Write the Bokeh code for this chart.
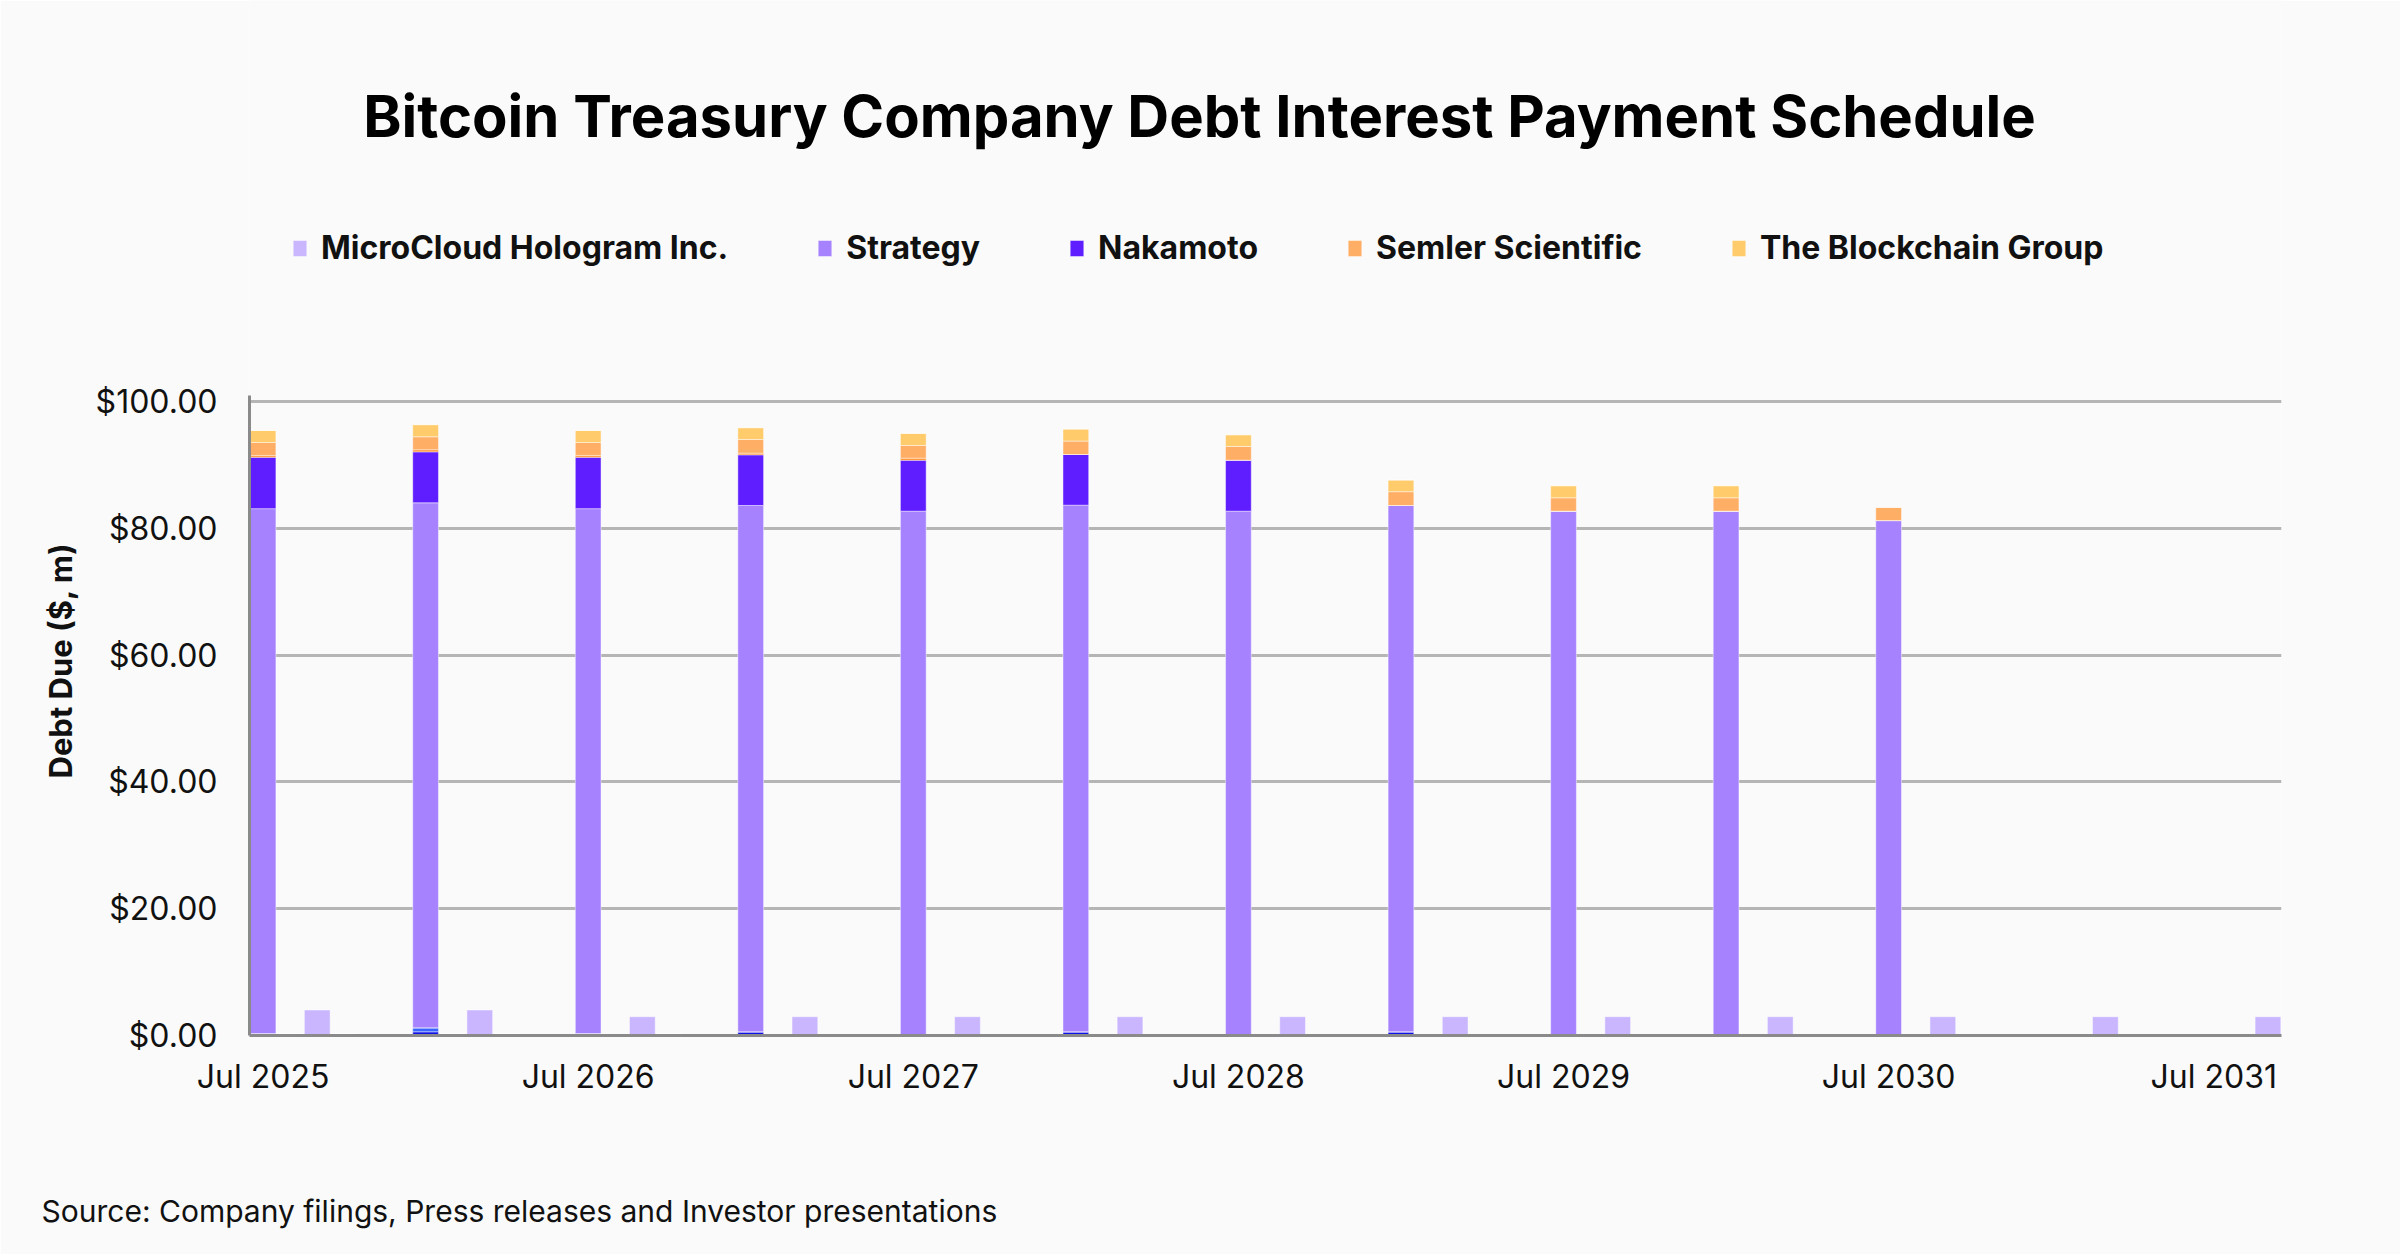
from bokeh.plotting import figure
from bokeh.models import (Range1d, FixedTicker, NumeralTickFormatter, Label,
                          Legend, LegendItem, ColumnDataSource, Title)
from bokeh.embed import file_html
from bokeh.resources import INLINE

# ---------------- data ----------------
payment_months = ["2025-07", "2025-08", "2025-09", "2025-10",
                  "2026-01", "2026-02", "2026-03", "2026-04",
                  "2026-07", "2026-09", "2026-10",
                  "2027-01", "2027-03", "2027-07", "2027-09",
                  "2028-01", "2028-03", "2028-07", "2028-09",
                  "2029-01", "2029-03", "2029-07", "2029-09",
                  "2030-01", "2030-03", "2030-07", "2030-09",
                  "2031-03", "2031-09"]

other_dark_blue = [0, 0, 0, 0,
                   0.58, 0, 0, 0,
                   0, 0, 0,
                   0.58, 0, 0, 0,
                   0.58, 0, 0, 0,
                   0.58, 0, 0, 0,
                   0, 0, 0, 0,
                   0, 0]
other_mid_blue = [0.30, 0, 0, 0.30,
                  0.63, 0, 0, 0.30,
                  0.30, 0, 0.30,
                  0, 0, 0, 0,
                  0, 0, 0, 0,
                  0, 0, 0, 0,
                  0, 0, 0, 0,
                  0, 0]
other_light_blue = [0, 0.35, 0, 0,
                    0, 0.35, 0, 0,
                    0, 0, 0,
                    0, 0, 0, 0,
                    0, 0, 0, 0,
                    0, 0, 0, 0,
                    0, 0, 0, 0,
                    0, 0]
strategy = [82.8, 0, 0, 0,
            82.81, 0, 0, 0,
            82.8, 0, 0,
            83.02, 0, 82.7, 0,
            83.07, 0, 82.7, 0,
            83.02, 0, 82.7, 0,
            82.7, 0, 81.22, 0,
            0, 0]
nakamoto = [8.1, 0, 0, 0,
            8.04, 0, 0, 0,
            8.1, 0, 0,
            7.99, 0, 8.04, 0,
            7.99, 0, 8.04, 0,
            0, 0, 0, 0,
            0, 0, 0, 0,
            0, 0]
other_dark_orange = [0.26, 0, 0, 0,
                     0.32, 0, 0, 0,
                     0.26, 0, 0,
                     0.26, 0, 0.32, 0,
                     0, 0, 0, 0,
                     0, 0, 0, 0,
                     0, 0, 0, 0,
                     0, 0]
semler = [2.07, 0, 0, 0,
          2.06, 0, 0, 0,
          2.07, 0, 0,
          2.17, 0, 2.01, 0,
          2.12, 0, 2.17, 0,
          2.17, 0, 2.11, 0,
          2.11, 0, 2.11, 0,
          0, 0]
blockchain_group = [1.9, 0, 0, 0,
                    1.91, 0, 0, 0,
                    1.9, 0, 0,
                    1.85, 0, 1.9, 0,
                    1.9, 0, 1.85, 0,
                    1.85, 0, 1.91, 0,
                    1.91, 0, 0, 0,
                    0, 0]
microcloud = [0, 0, 4.02, 0,
              0, 0, 4.02, 0,
              0, 2.96, 0,
              0, 2.96, 0, 2.96,
              0, 2.96, 0, 2.96,
              0, 2.96, 0, 2.96,
              0, 2.96, 0, 2.96,
              2.96, 2.96]

tick_months = ["2025-07", "2026-07", "2027-07", "2028-07", "2029-07", "2030-07", "2031-07"]
tick_labels = ["Jul 2025", "Jul 2026", "Jul 2027", "Jul 2028", "Jul 2029", "Jul 2030", "Jul 2031"]
y_ticks = [0, 20, 40, 60, 80, 100]

# ---------------- helpers ----------------
def month_index(s):
    y, m = s.split("-")
    return (int(y) - 2025) * 12 + (int(m) - 7)

FONT = "Inter"
TXT = "#111111"
BG = "#FAFAFA"

src = ColumnDataSource(dict(
    x=[month_index(m) for m in payment_months],
    dark_blue=other_dark_blue, mid_blue=other_mid_blue, light_blue=other_light_blue,
    strategy=strategy, nakamoto=nakamoto, dark_orange=other_dark_orange,
    semler=semler, blockchain=blockchain_group, microcloud=microcloud,
))

stackers = ["dark_blue", "mid_blue", "light_blue", "strategy", "nakamoto",
            "dark_orange", "semler", "blockchain", "microcloud"]
colors = ["#0E12E6", "#3A64FF", "#93AEFF", "#A682FF", "#5F1EFF",
          "#FF8A1C", "#FFAE66", "#FFCB6B", "#C9B6FF"]

W, H = 2400, 1254
ZERO_Y = 1035            # canvas px of the $0 line
HUNDRED_Y = 401          # canvas px of the $100 line
PX_PER_UNIT = (ZERO_Y - HUNDRED_Y) / 100.0
Y_TOP = 100 + HUNDRED_Y / PX_PER_UNIT   # frame reaches the canvas top

p = figure(width=W, height=H, output_backend="svg", toolbar_location=None,
           title=None,
           x_range=Range1d(-0.5, 74.5), y_range=Range1d(0, Y_TOP),
           min_border_left=249, min_border_right=119,
           min_border_top=0, min_border_bottom=H - ZERO_Y)
p.background_fill_color = BG
p.border_fill_color = BG
p.outline_line_color = None

rs = p.vbar_stack(stackers, x="x", width=0.95, color=colors, source=src,
                  line_color="#FFFFFF", line_alpha=0.45, line_width=1)
r = dict(zip(stackers, rs))

# axes
p.xgrid.grid_line_color = None
p.ygrid.grid_line_color = "#B5B5B5"
p.ygrid.grid_line_width = 3
p.ygrid.ticker = FixedTicker(ticks=y_ticks)

p.yaxis.ticker = FixedTicker(ticks=y_ticks)
p.yaxis.bounds = (0, 101)
p.yaxis.formatter = NumeralTickFormatter(format="$0.00")
p.xaxis.ticker = FixedTicker(ticks=[month_index(m) for m in tick_months])
p.xaxis.major_label_overrides = {month_index(m): l for m, l in zip(tick_months, tick_labels)}

for ax in (p.xaxis[0], p.yaxis[0]):
    ax.axis_line_color = "#8A8A8A"
    ax.axis_line_width = 3
    ax.major_tick_line_color = None
    ax.minor_tick_line_color = None
    ax.major_label_text_font = FONT
    ax.major_label_text_font_size = "32px"
    ax.major_label_text_color = TXT

p.xaxis.major_label_standoff = 15
p.yaxis.major_label_standoff = 26

# y axis title, anchored at its lower end like the reference
p.add_layout(Title(text="Debt Due ($, m)", align="left", offset=257, standoff=28,
                   vertical_align="bottom",
                   text_font=FONT, text_font_size="31px", text_font_style="bold",
                   text_color=TXT), "left")

# legend (inside the frame, which extends to the canvas top)
legend = Legend(items=[
    LegendItem(label="MicroCloud Hologram Inc.", renderers=[r["microcloud"]]),
    LegendItem(label="Strategy", renderers=[r["strategy"]]),
    LegendItem(label="Nakamoto", renderers=[r["nakamoto"]]),
    LegendItem(label="Semler Scientific", renderers=[r["semler"]]),
    LegendItem(label="The Blockchain Group", renderers=[r["blockchain"]]),
], orientation="horizontal", location=(42, 768), spacing=88,
    glyph_width=17, glyph_height=20, label_standoff=13,
    label_text_font=FONT, label_text_font_size="32px",
    label_text_font_style="bold", label_text_color=TXT,
    background_fill_alpha=0, border_line_alpha=0, padding=0, margin=0)
p.add_layout(legend)

# main title
p.add_layout(Label(x=950, y=ZERO_Y - 115, x_units="screen", y_units="screen",
                   text="Bitcoin Treasury Company Debt Interest Payment Schedule",
                   text_align="center", text_baseline="middle",
                   text_font=FONT, text_font_size="58px", text_font_style="bold",
                   text_color="#000000"))

# source note below the x axis
p.add_layout(Title(text="Source: Company filings, Press releases and Investor presentations",
                   align="left", offset=-208, standoff=0, vertical_align="bottom",
                   padding=dict(top=92, bottom=0, left=0, right=0),
                   text_font=FONT, text_font_size="30px", text_font_style="normal",
                   text_color=TXT), "below")

open("out.html", "w").write(file_html(p, INLINE))
